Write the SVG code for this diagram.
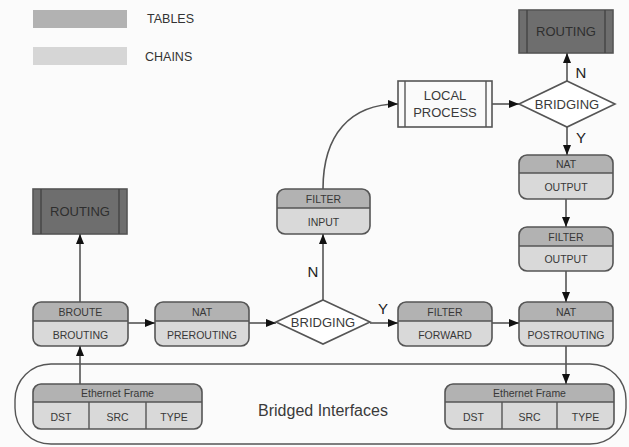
<svg xmlns="http://www.w3.org/2000/svg" width="629" height="447" viewBox="0 0 629 447">
<defs>
<marker id="ah" markerUnits="userSpaceOnUse" markerWidth="11" markerHeight="8" refX="10" refY="4" orient="auto">
<path d="M0,0 L10,4 L0,8 z" fill="#111"/>
</marker>
<style>
text{font-family:"Liberation Sans",Arial,sans-serif;text-anchor:middle;fill:#3a3a3a}
.body{fill:#d9d9d9;stroke:none}
.head{fill:#b2b2b2;stroke:none}
.outl{fill:none;stroke:#555;stroke-width:1.6}
.div{stroke:#555;stroke-width:1.4}
.lbl{font-size:10.5px;fill:#383838}
.tbl{fill:#6e6e6e;stroke:#555;stroke-width:1.6}
.tline{stroke:#444;stroke-width:1.4}
.dia{fill:#fff;stroke:#555;stroke-width:1.6}
.conn{fill:none;stroke:#555;stroke-width:1.6;marker-end:url(#ah)}
.yn{font-size:15px;fill:#222}
.leg{font-size:12.5px;text-anchor:start;fill:#333}
</style>
</defs>
<rect x="0" y="0" width="629" height="447" fill="#fbfbfb"/>

<g id="legend">
<rect x="33" y="10" width="94" height="18" fill="#b2b2b2"/>
<text class="leg" x="147" y="23">TABLES</text>
<rect x="33" y="47" width="94" height="18" fill="#d6d6d6"/>
<text class="leg" x="145" y="61">CHAINS</text>
</g>

<g id="bridged-interfaces">
<rect x="15" y="364" width="611" height="80" rx="36" ry="36" fill="none" stroke="#555" stroke-width="1.4"/>
<text x="323" y="416" style="font-size:16px" fill="#333">Bridged Interfaces</text>
</g>

<g id="routing-left">
<rect class="tbl" x="33" y="189" width="94" height="45"/>
<line class="tline" x1="41" y1="189" x2="41" y2="234"/>
<line class="tline" x1="119" y1="189" x2="119" y2="234"/>
<text x="80" y="216" style="font-size:13px;fill:#2e2e2e">ROUTING</text>
</g>

<g id="routing-right">
<rect class="tbl" x="519" y="10" width="94" height="43"/>
<line class="tline" x1="527" y1="10" x2="527" y2="53"/>
<line class="tline" x1="605" y1="10" x2="605" y2="53"/>
<text x="566" y="36" style="font-size:13px;fill:#2e2e2e">ROUTING</text>
</g>

<g id="local-process">
<rect x="398" y="81" width="94" height="46" fill="#fafafa" stroke="#555" stroke-width="1.6"/>
<line class="div" x1="405" y1="81" x2="405" y2="127"/>
<line class="div" x1="486" y1="81" x2="486" y2="127"/>
<text x="445" y="100" style="font-size:13px">LOCAL</text>
<text x="445" y="117" style="font-size:13px">PROCESS</text>
</g>

<g id="bridging-top">
<polygon class="dia" points="567,81 615,104 567,127 519,104"/>
<text x="567" y="109" style="font-size:13px">BRIDGING</text>
</g>

<g id="bridging-mid">
<polygon class="dia" points="323,300 370,322 323,344 276,322"/>
<text x="323" y="327" style="font-size:13px">BRIDGING</text>
</g>

<g id="broute">
<rect class="body" x="33" y="302" width="95" height="44" rx="8"/>
<path class="head" d="M33,321 V310 Q33,302 41,302 H120 Q128,302 128,310 V321 Z"/>
<line class="div" x1="33" y1="321" x2="128" y2="321"/>
<rect class="outl" x="33" y="302" width="95" height="44" rx="8"/>
<text class="lbl" x="80.5" y="315.5">BROUTE</text>
<text class="lbl" x="80.5" y="338.5">BROUTING</text>
</g>

<g id="nat-prerouting">
<rect class="body" x="155" y="302" width="94" height="44" rx="8"/>
<path class="head" d="M155,321 V310 Q155,302 163,302 H241 Q249,302 249,310 V321 Z"/>
<line class="div" x1="155" y1="321" x2="249" y2="321"/>
<rect class="outl" x="155" y="302" width="94" height="44" rx="8"/>
<text class="lbl" x="202" y="315.5">NAT</text>
<text class="lbl" x="202" y="338.5">PREROUTING</text>
</g>

<g id="filter-forward">
<rect class="body" x="398" y="302" width="94" height="44" rx="8"/>
<path class="head" d="M398,321 V310 Q398,302 406,302 H484 Q492,302 492,310 V321 Z"/>
<line class="div" x1="398" y1="321" x2="492" y2="321"/>
<rect class="outl" x="398" y="302" width="94" height="44" rx="8"/>
<text class="lbl" x="445" y="315.5">FILTER</text>
<text class="lbl" x="445" y="338.5">FORWARD</text>
</g>

<g id="nat-postrouting">
<rect class="body" x="519" y="302" width="94" height="44" rx="8"/>
<path class="head" d="M519,321 V310 Q519,302 527,302 H605 Q613,302 613,310 V321 Z"/>
<line class="div" x1="519" y1="321" x2="613" y2="321"/>
<rect class="outl" x="519" y="302" width="94" height="44" rx="8"/>
<text class="lbl" x="566" y="315.5">NAT</text>
<text class="lbl" x="566" y="338.5">POSTROUTING</text>
</g>

<g id="filter-input">
<rect class="body" x="277" y="189" width="93" height="45" rx="8"/>
<path class="head" d="M277,208 V197 Q277,189 285,189 H362 Q370,189 370,197 V208 Z"/>
<line class="div" x1="277" y1="208" x2="370" y2="208"/>
<rect class="outl" x="277" y="189" width="93" height="45" rx="8"/>
<text class="lbl" x="323.5" y="202.5">FILTER</text>
<text class="lbl" x="323.5" y="226">INPUT</text>
</g>

<g id="nat-output">
<rect class="body" x="519" y="155" width="94" height="44" rx="8"/>
<path class="head" d="M519,173 V163 Q519,155 527,155 H605 Q613,155 613,163 V173 Z"/>
<line class="div" x1="519" y1="173" x2="613" y2="173"/>
<rect class="outl" x="519" y="155" width="94" height="44" rx="8"/>
<text class="lbl" x="566" y="168">NAT</text>
<text class="lbl" x="566" y="191">OUTPUT</text>
</g>

<g id="filter-output">
<rect class="body" x="519" y="227" width="94" height="44" rx="8"/>
<path class="head" d="M519,246 V235 Q519,227 527,227 H605 Q613,227 613,235 V246 Z"/>
<line class="div" x1="519" y1="246" x2="613" y2="246"/>
<rect class="outl" x="519" y="227" width="94" height="44" rx="8"/>
<text class="lbl" x="566" y="240.5">FILTER</text>
<text class="lbl" x="566" y="263">OUTPUT</text>
</g>

<g id="eth-left">
<rect class="body" x="33" y="384" width="169" height="45" rx="8"/>
<path class="head" d="M33,402 V392 Q33,384 41,384 H194 Q202,384 202,392 V402 Z"/>
<line class="div" x1="33" y1="402" x2="202" y2="402"/>
<line class="div" x1="89" y1="402" x2="89" y2="429"/>
<line class="div" x1="146" y1="402" x2="146" y2="429"/>
<rect class="outl" x="33" y="384" width="169" height="45" rx="8"/>
<text class="lbl" x="117.5" y="397">Ethernet Frame</text>
<text class="lbl" x="61" y="420.5">DST</text>
<text class="lbl" x="117.5" y="420.5">SRC</text>
<text class="lbl" x="174" y="420.5">TYPE</text>
</g>

<g id="eth-right">
<rect class="body" x="445" y="384" width="169" height="45" rx="8"/>
<path class="head" d="M445,402 V392 Q445,384 453,384 H606 Q614,384 614,392 V402 Z"/>
<line class="div" x1="445" y1="402" x2="614" y2="402"/>
<line class="div" x1="502" y1="402" x2="502" y2="429"/>
<line class="div" x1="557" y1="402" x2="557" y2="429"/>
<rect class="outl" x="445" y="384" width="169" height="45" rx="8"/>
<text class="lbl" x="529.5" y="397">Ethernet Frame</text>
<text class="lbl" x="473.5" y="420.5">DST</text>
<text class="lbl" x="529.5" y="420.5">SRC</text>
<text class="lbl" x="585.5" y="420.5">TYPE</text>
</g>

<g id="connectors">
<line class="conn" x1="80" y1="302" x2="80" y2="234"/>
<line class="conn" x1="80" y1="384" x2="80" y2="346"/>
<line class="conn" x1="128" y1="323" x2="155" y2="323"/>
<line class="conn" x1="249" y1="323" x2="276" y2="323"/>
<line class="conn" x1="370" y1="323" x2="398" y2="323"/>
<line class="conn" x1="492" y1="323" x2="519" y2="323"/>
<line class="conn" x1="323" y1="300" x2="323" y2="234"/>
<path class="conn" d="M323,189 C323,135 350,104 398,104"/>
<line class="conn" x1="492" y1="104" x2="519" y2="104"/>
<line class="conn" x1="567" y1="81" x2="567" y2="53"/>
<line class="conn" x1="567" y1="127" x2="567" y2="155"/>
<line class="conn" x1="566" y1="199" x2="566" y2="227"/>
<line class="conn" x1="566" y1="271" x2="566" y2="302"/>
<line class="conn" x1="566" y1="346" x2="566" y2="384"/>
<text class="yn" x="313" y="277">N</text>
<text class="yn" x="383" y="314">Y</text>
<text class="yn" x="581" y="78">N</text>
<text class="yn" x="581" y="143">Y</text>
</g>
</svg>
